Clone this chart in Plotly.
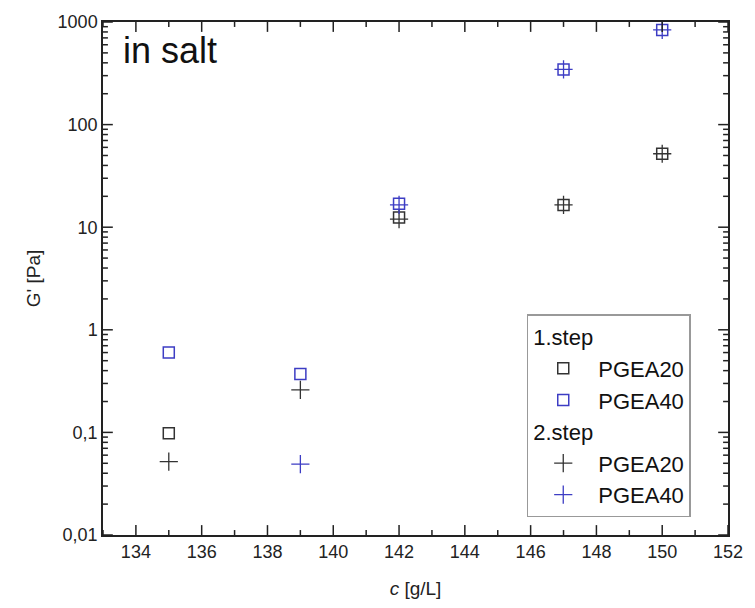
import math
import plotly.graph_objects as go

# data
c1_20 = [135, 142, 147, 150]
g1_20 = [0.098, 12.4, 16.5, 52]
c1_40 = [135, 139, 142, 147, 150]
g1_40 = [0.6, 0.37, 16.9, 345, 838]
c2_20 = [135, 139, 142, 147, 150]
g2_20 = [0.052, 0.26, 12, 16.5, 52]
c2_40 = [139, 142, 147, 150]
g2_40 = [0.049, 16.5, 345, 838]

xmajor = list(range(134, 153, 2))
xminor = list(range(133, 153, 2))
ymajor = [0.01, 0.1, 1, 10, 100, 1000]
ylabels = ["0,01", "0,1", "1", "10", "100", "1000"]
yminor = [m * 10 ** e for e in range(-2, 3) for m in range(2, 10)]

XR = [133, 152]
YR = [-2, 3]
W, H = 755, 608
ML, MR, MT, MB = 103, 16, 17, 72
PW, PH = W - ML - MR, H - MT - MB

BLACK = "#333333"
BLUE = "#3d3dc4"
AX = "#222222"
FONT = "Liberation Sans, Arial, sans-serif"

fig = go.Figure()

def sq(color):
    return dict(symbol="square-open", size=11, color=color, line=dict(width=1.5, color=color))

def pl(color):
    return dict(symbol="cross-thin-open", size=13, color=color, line=dict(width=1.3, color=color))

fig.add_trace(go.Scatter(x=c1_20, y=g1_20, mode="markers", name="PGEA20",
                         legendgroup="s1", legendgrouptitle_text="1.step", marker=sq(BLACK)))
fig.add_trace(go.Scatter(x=c1_40, y=g1_40, mode="markers", name="PGEA40",
                         legendgroup="s1", marker=sq(BLUE)))
fig.add_trace(go.Scatter(x=c2_20, y=g2_20, mode="markers", name="PGEA20",
                         legendgroup="s2", legendgrouptitle_text="2.step", marker=pl(BLACK)))
fig.add_trace(go.Scatter(x=c2_40, y=g2_40, mode="markers", name="PGEA40",
                         legendgroup="s2", marker=pl(BLUE)))

common = dict(showline=True, linecolor=AX, linewidth=1.5, mirror=True,
              ticks="", showgrid=False, zeroline=False)

fig.update_layout(
    xaxis=dict(range=XR, tickmode="array", tickvals=xmajor,
               tickfont=dict(family=FONT, size=18, color="#222"),
               title=dict(text="<i>c</i> [g/L]", font=dict(family=FONT, size=19, color="#222"), standoff=20),
               **common),
    yaxis=dict(type="log", range=YR, tickmode="array", tickvals=ymajor, ticktext=ylabels,
               tickfont=dict(family=FONT, size=18, color="#222"),
               title=dict(text="G' [Pa]", font=dict(family=FONT, size=19, color="#222"), standoff=12),
               **common),
)

# inside tick marks (major and minor) on all four sides, placed from the tick arrays
shapes = []
tick_line = dict(color=AX, width=1.5)
for vals, ln in ((xmajor, 10), (xminor, 5)):
    for v in vals:
        f = (v - XR[0]) / (XR[1] - XR[0])
        d = ln / PH
        shapes.append(dict(type="line", xref="paper", yref="paper", x0=f, x1=f, y0=0, y1=d, line=tick_line))
        shapes.append(dict(type="line", xref="paper", yref="paper", x0=f, x1=f, y0=1, y1=1 - d, line=tick_line))
for vals, ln in ((ymajor, 10), (yminor, 5)):
    for v in vals:
        f = (math.log10(v) - YR[0]) / (YR[1] - YR[0])
        d = ln / PW
        shapes.append(dict(type="line", xref="paper", yref="paper", x0=0, x1=d, y0=f, y1=f, line=tick_line))
        shapes.append(dict(type="line", xref="paper", yref="paper", x0=1, x1=1 - d, y0=f, y1=f, line=tick_line))
fig.update_layout(shapes=shapes)

fig.add_annotation(x=0.031, y=0.986, xref="paper", yref="paper", xanchor="left", yanchor="top",
                   text="in salt", showarrow=False, borderpad=0,
                   font=dict(family=FONT, size=36, color="#111"))

fig.update_layout(
    width=W, height=H,
    margin=dict(l=ML, r=MR, t=MT, b=MB),
    plot_bgcolor="white", paper_bgcolor="white",
    font=dict(family=FONT, color="#222"),
    legend=dict(x=0.678, y=0.43, xanchor="left", yanchor="top",
                bordercolor="#999", borderwidth=1.5, bgcolor="white",
                font=dict(family=FONT, size=22, color="#111"),
                grouptitlefont=dict(family=FONT, size=22, color="#111"),
                tracegroupgap=0, itemwidth=60),
)

fig.write_html("out.html")
